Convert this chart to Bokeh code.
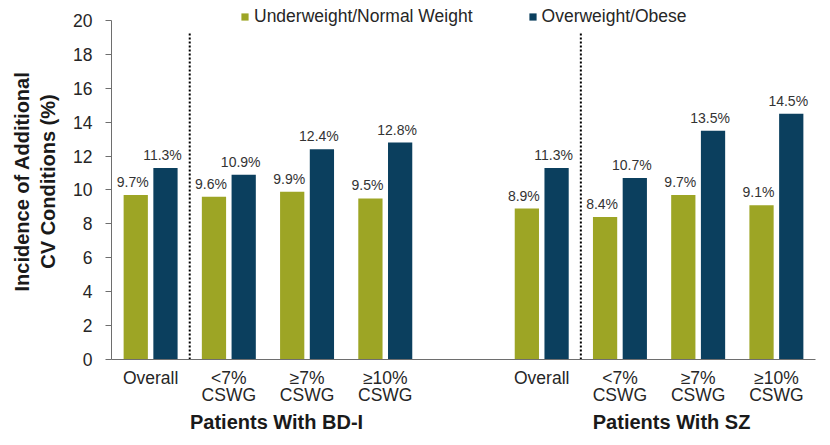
from bokeh.plotting import figure
from bokeh.models import ColumnDataSource, FixedTicker, Legend, LegendItem, Range1d, LinearAxis
from bokeh.core.properties import value
from bokeh.embed import file_html
from bokeh.resources import INLINE

# ---------------- data ----------------
categories = ["Overall", "<7%\nCSWG", "\u22657%\nCSWG", "\u226510%\nCSWG"]
groups = ["Patients With BD-I", "Patients With SZ"]
series_names = ["Underweight/Normal Weight", "Overweight/Obese"]
underweight_bd = [9.7, 9.6, 9.9, 9.5]
overweight_bd = [11.3, 10.9, 12.4, 12.8]
underweight_sz = [8.9, 8.4, 9.7, 9.1]
overweight_sz = [11.3, 10.7, 13.5, 14.5]
y_ticks = [0, 2, 4, 6, 8, 10, 12, 14, 16, 18, 20]
y_max = 20

# ---------------- styling ----------------
FONT = "Liberation Sans"
GREEN = "#9DA525"
BLUE = "#0B3F5E"
TEXT = "#262626"
AXIS = "#6e6e6e"
BAR_W = 0.31
DODGE = 0.19
HEADROOM = 1.0  # extra space above the axis top for the legend

n = len(categories)
slot = []
for g in range(len(groups)):
    for i in range(n):
        slot.append(g * (n + 1) + i)

uw_vals = underweight_bd + underweight_sz
ow_vals = overweight_bd + overweight_sz

src_uw = ColumnDataSource(dict(x=[s - DODGE for s in slot], top=uw_vals,
                               lbl=[f"{v:.1f}%" for v in uw_vals]))
src_ow = ColumnDataSource(dict(x=[s + DODGE for s in slot], top=ow_vals,
                               lbl=[f"{v:.1f}%" for v in ow_vals]))

p = figure(width=830, height=445, output_backend="svg", toolbar_location=None,
           x_range=Range1d(-0.5, len(groups) * (n + 1) - 1.5),
           y_range=Range1d(0, y_max + HEADROOM),
           min_border_left=111, min_border_right=15, min_border_top=3, min_border_bottom=86)
p.outline_line_color = None
p.xgrid.visible = False
p.ygrid.visible = False
p.background_fill_color = "white"
p.border_fill_color = "white"

r_uw = p.vbar(x="x", top="top", width=BAR_W, source=src_uw, fill_color=GREEN, line_color=None)
r_ow = p.vbar(x="x", top="top", width=BAR_W, source=src_ow, fill_color=BLUE, line_color=None)

for src in (src_uw, src_ow):
    p.text(x="x", y="top", text="lbl", source=src, x_offset=-3, y_offset=-5,
           text_align="center", text_baseline="bottom",
           text_font=value(FONT), text_font_size="14px", text_color="#333333")

# dotted separators between "Overall" and the CSWG categories of each group
sep_x = [g * (n + 1) + 0.5 for g in range(len(groups))]
p.segment(x0=sep_x, y0=[0] * len(sep_x), x1=sep_x, y1=[19.3] * len(sep_x),
          line_color="#000000", line_width=2, line_dash="2 2")

# y axis
ya = p.yaxis[0]
ya.ticker = FixedTicker(ticks=y_ticks)
ya.bounds = (0, y_max)
ya.axis_line_color = AXIS
ya.major_tick_line_color = AXIS
ya.major_tick_out = 6
ya.major_tick_in = 0
ya.minor_tick_line_color = None
ya.major_label_text_font = FONT
ya.major_label_text_font_size = "17.5px"
ya.major_label_text_color = TEXT
ya.major_label_standoff = 13
ya.axis_label = "Incidence of Additional\nCV Conditions (%)"
ya.axis_label_text_font = FONT
ya.axis_label_text_font_size = "20px"
ya.axis_label_text_font_style = "bold"
ya.axis_label_text_color = "#1a1a1a"
ya.axis_label_standoff = 11

# x axis: first line of category labels
line1 = [c.split("\n")[0] for c in categories]
line2 = [c.split("\n")[1] if "\n" in c else "" for c in categories]

xa = p.xaxis[0]
xa.ticker = FixedTicker(ticks=slot)
xa.major_label_overrides = {s: line1[i % n] for i, s in enumerate(slot)}
xa.axis_line_color = AXIS
xa.major_tick_line_color = None
xa.major_tick_out = 0
xa.major_tick_in = 0
xa.minor_tick_line_color = None
xa.major_label_text_font = FONT
xa.major_label_text_font_size = "17.5px"
xa.major_label_text_color = TEXT
xa.major_label_standoff = 8

# second line of category labels
slot2 = [s for i, s in enumerate(slot) if line2[i % n]]
xa2 = LinearAxis(ticker=FixedTicker(ticks=slot2),
                 major_label_overrides={s: line2[slot.index(s) % n] for s in slot2},
                 axis_line_color=None, major_tick_line_color=None, minor_tick_line_color=None,
                 major_tick_out=0, major_tick_in=0, major_label_standoff=-6,
                 major_label_text_font=FONT, major_label_text_font_size="17.5px",
                 major_label_text_color=TEXT)
p.add_layout(xa2, "below")

# group labels
group_label_x = [1.61, 6.66]
xa3 = LinearAxis(ticker=FixedTicker(ticks=group_label_x),
                 major_label_overrides={gx: name for gx, name in zip(group_label_x, groups)},
                 axis_line_color=None, major_tick_line_color=None, minor_tick_line_color=None,
                 major_tick_out=0, major_tick_in=0, major_label_standoff=3,
                 major_label_text_font=FONT, major_label_text_font_size="20px",
                 major_label_text_font_style="bold", major_label_text_color="#1a1a1a")
p.add_layout(xa3, "below")

legend = Legend(items=[LegendItem(label=series_names[0], renderers=[r_uw]),
                       LegendItem(label=series_names[1], renderers=[r_ow])],
                location=(129, 332), orientation="horizontal",
                border_line_color=None, background_fill_alpha=0,
                padding=0, margin=0, spacing=55, label_standoff=5,
                glyph_width=9, glyph_height=9, label_height=17,
                label_text_font=FONT, label_text_font_size="17.5px",
                label_text_color=TEXT, label_text_baseline="middle")
p.add_layout(legend)

open("out.html", "w").write(file_html(p, INLINE))
